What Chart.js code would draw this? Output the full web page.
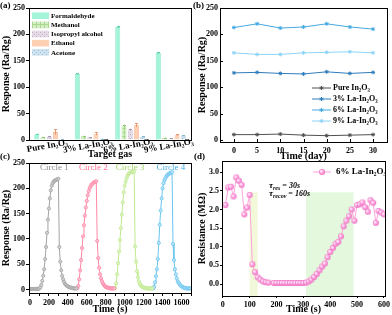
<!DOCTYPE html>
<html>
<head>
<meta charset="utf-8">
<script src="https://cdn.jsdelivr.net/npm/chart.js@4.4.1/dist/chart.umd.min.js"></script>
<style>
  html, body { margin: 0; padding: 0; background: #fff; }
  #wrap { position: relative; width: 392px; height: 315px; overflow: hidden; }
  #wrap canvas { position: absolute; }
  .tag { position: absolute; font: bold 9px 'Liberation Serif', serif; color: #000; line-height: 10px; }
</style>
</head>
<body>
<div id="wrap">
  <canvas id="gasChart" width="196" height="160" style="left:0;top:0"></canvas>
  <canvas id="stabilityChart" width="196" height="162" style="left:196px;top:0"></canvas>
  <canvas id="cycleChart" width="196" height="165" style="left:0;top:150px"></canvas>
  <canvas id="resistChart" width="196" height="165" style="left:196px;top:150px"></canvas>
  <div class="tag" style="left:0;top:0">(a)</div>
  <div class="tag" style="left:193px;top:0">(b)</div>
  <div class="tag" style="left:0;top:151px">(c)</div>
  <div class="tag" style="left:194px;top:151px">(d)</div>
</div>
<script>
const SERIF = "'Liberation Serif', 'Times New Roman', serif";

// (a) response of each sample to the target gases
const sampleLabels = ['Pure In₂O₃', '3% La-In₂O₃', '6% La-In₂O₃', '9% La-In₂O₃'];
const formaldehydeResp = [11, 125, 214, 165];
const formaldehydeErr = [1, 1.5, 2, 1.5];
const methanolResp = [5, 7, 27, 4];
const methanolErr = [1, 1, 2, 0.5];
const isopropylResp = [6, 5, 20, 3];
const isopropylErr = [0.8, 0.5, 1.5, 0.5];
const ethanolResp = [15, 12, 28, 9];
const ethanolErr = [5, 3, 4, 1.5];
const acetoneResp = [1.5, 2, 6, 8];
const acetoneErr = [0.3, 0.5, 0.8, 0.8];

// (b) long term stability
const stabilityDays = [0, 5, 10, 15, 20, 25, 30];
const pureStab = [10, 10, 11, 9, 8, 9, 10];
const la3Stab = [127, 128, 126, 125, 129, 126, 128];
const la6Stab = [213, 220, 212, 214, 220, 214, 210];
const la9Stab = [165, 162, 162, 165, 166, 167, 165];
const dayTicks = [0, 5, 10, 15, 20, 25, 30];

// (c) four response cycles
const circle1Time = [0, 10, 20, 30, 40, 50, 60, 70, 80, 90, 100, 110, 120, 130, 140, 150, 160, 170, 180, 190,
  200, 210, 220, 230, 240, 250, 260, 270, 280, 290, 300, 310, 320, 330, 340, 350, 360, 370, 380, 390,
  400, 410, 420, 430, 440, 450, 460, 470, 480, 490];
const circle1Resp = [1, 1, 1, 1, 1, 1, 1, 1, 1, 1, 2, 4, 9, 17, 27, 40, 60, 84, 112, 138,
  160, 180, 196, 205, 210, 213, 215, 216, 217, 218, 219, 84, 55, 38, 27, 20, 15, 11, 9, 7,
  6, 5, 4, 4, 3, 3, 2, 2, 2, 2];
const circle2Time = [500, 510, 520, 530, 540, 550, 560, 570, 580, 590, 600, 610, 620, 630, 640, 650, 660, 670, 680, 690,
  700, 710, 720, 730, 740, 750, 760, 770, 780, 790, 800, 810, 820, 830, 840, 850, 860, 870, 880, 890];
const circle2Resp = [2, 7, 20, 38, 58, 82, 105, 127, 146, 162, 175, 186, 194, 200, 204, 207, 209, 211, 212, 213,
  214, 96, 62, 43, 30, 22, 16, 12, 9, 7, 5, 4, 4, 3, 3, 2, 2, 2, 2, 2];
const circle3Time = [900, 910, 920, 930, 940, 950, 960, 970, 980, 990, 1000, 1010, 1020, 1030, 1040, 1050, 1060, 1070, 1080, 1090,
  1100, 1110, 1120, 1130, 1140, 1150, 1160, 1170, 1180, 1190, 1200, 1210, 1220, 1230, 1240, 1250, 1260, 1270, 1280, 1290];
const circle3Resp = [3, 12, 30, 52, 75, 98, 121, 148, 172, 192, 205, 213, 220, 225, 228, 230, 231, 232, 232, 233,
  233, 85, 55, 36, 24, 16, 11, 8, 6, 5, 4, 3, 3, 2, 2, 2, 2, 2, 2, 2];
const circle4Time = [1300, 1310, 1320, 1330, 1340, 1350, 1360, 1370, 1380, 1390, 1400, 1410, 1420, 1430, 1440, 1450, 1460, 1470, 1480, 1490,
  1500, 1510, 1520, 1530, 1540, 1550, 1560, 1570, 1580, 1590, 1600, 1610, 1620, 1630, 1640, 1650, 1660, 1670, 1680, 1690, 1700];
const circle4Resp = [2, 5, 14, 26, 40, 60, 92, 128, 156, 180, 200, 210, 216, 220, 224, 226, 228, 229, 230, 231,
  232, 90, 58, 40, 30, 22, 16, 13, 10, 8, 6, 5, 4, 3, 3, 2, 2, 2, 2, 2, 2];
const cycleTicks = [0, 100, 200, 300, 400, 500, 600, 700, 800, 900, 1000, 1100, 1200, 1300, 1400, 1500, 1600, 1700];

// (d) resistance of 6% La-In2O3 during one cycle (MOhm)
const resTime = [10, 20, 30, 40, 50, 60, 70, 80, 90, 100, 110, 120, 130, 140, 150, 160, 170, 180, 190, 200,
  210, 220, 230, 240, 250, 260, 270, 280, 290, 300, 310, 320, 330, 340, 350, 360, 370, 380, 390, 400,
  410, 420, 430, 440, 450, 460, 470, 480, 490, 500, 510, 520, 530, 540, 550, 560, 570, 580, 590, 600];
const resValue = [2.12, 2.59, 2.61, 2.35, 2.86, 2.77, 2.66, 1.87, 2.05, 2.39, 0.53, 0.32, 0.18, 0.12, 0.07, 0.05, 0.04, null, 0.03, 0.03,
  0.03, 0.03, 0.03, 0.03, 0.03, 0.03, 0.03, 0.03, 0.03, 0.03, 0.04, 0.07, 0.12, 0.19, 0.27, 0.37, 0.47, 0.55, 0.72, 0.86,
  0.97, 1.08, 1.13, 1.28, 1.55, 1.7, 1.82, 2.0, 1.7, 2.12, 2.14, 2.19, 2.06, 1.94, 2.25, 2.18, 1.64, 1.96, 1.92, 1.87];
const resTimeTicks = [0, 100, 200, 300, 400, 500, 600];
const shadeSpans = [[100, 130, 2.46], [310, 487, 2.46]];

// ---------- shared bits ----------
const tickFont = { family: SERIF, size: 8, weight: 'bold' };
const titleFont = { family: SERIF, size: 10, weight: 'bold' };

function toXY(xs, ys) {
    return xs.map((x, i) => ({ x: x, y: ys[i] }));
}

function makePattern(base, mark, kind) {
    const c = document.createElement('canvas');
    c.width = 4; c.height = 4;
    const g = c.getContext('2d');
    g.fillStyle = base;
    g.fillRect(0, 0, 4, 4);
    g.fillStyle = mark;
    if (kind === 'grid') {
        g.fillRect(0, 0, 4, 1);
        g.fillRect(0, 0, 1, 4);
    } else if (kind === 'dots') {
        g.fillRect(0, 0, 1, 1);
        g.fillRect(2, 2, 1, 1);
    }
    return g.createPattern(c, 'repeat');
}

function makeSphere(r) {
    const c = document.createElement('canvas');
    const d = r * 2 + 2;
    c.width = d; c.height = d;
    const g = c.getContext('2d');
    const grad = g.createRadialGradient(d / 2 - r * 0.35, d / 2 - r * 0.35, 0.2, d / 2, d / 2, r);
    grad.addColorStop(0, '#ffffff');
    grad.addColorStop(0.45, '#ffaee3');
    grad.addColorStop(1, '#ec6cc0');
    g.fillStyle = grad;
    g.beginPath();
    g.arc(d / 2, d / 2, r, 0, Math.PI * 2);
    g.fill();
    return c;
}

function yAxis(min, max, step, width, title, tickLen, fmt) {
    return {
        min: min, max: max,
        border: { display: false },
        grid: { display: tickLen > 0, drawOnChartArea: false, tickLength: tickLen, color: '#000' },
        ticks: { stepSize: step, includeBounds: false, font: tickFont, color: '#000', padding: tickLen > 0 ? 1 : 2, callback: fmt },
        title: { display: true, text: title, font: titleFont, color: '#000', padding: 0 },
        afterFit(s) { s.width = width; s.paddingTop = 0; s.paddingBottom = 0; }
    };
}

// x axis with a fixed list of tick values; labelEvery hides some labels
function xLinear(min, max, tickValues, labelEvery, height, title, tickLen) {
    return {
        type: 'linear', min: min, max: max,
        border: { display: false },
        grid: { display: tickLen > 0, drawOnChartArea: false, tickLength: tickLen, color: '#000' },
        ticks: {
            autoSkip: false, font: tickFont, color: '#000', padding: tickLen > 0 ? 2 : 4, maxRotation: 0,
            callback: v => (v % labelEvery === 0 ? String(v) : '')
        },
        afterBuildTicks(s) { s.ticks = tickValues.map(v => ({ value: v })); },
        title: { display: true, text: title, font: titleFont, color: '#000', padding: 0 },
        afterFit(s) { s.height = height; s.paddingLeft = 0; s.paddingRight = 0; }
    };
}

const framePlugin = {
    id: 'frame',
    afterDraw(chart) {
        const { ctx, chartArea: a } = chart;
        ctx.save();
        ctx.strokeStyle = '#000';
        ctx.lineWidth = 1;
        const l = Math.round(a.left) + 0.5, t = Math.round(a.top) + 0.5;
        ctx.strokeRect(l, t, Math.round(a.right) - Math.round(a.left), Math.round(a.bottom) - Math.round(a.top));
        ctx.restore();
    }
};

function lineLegend(x0, x1, tx, ys, fontSize) {
    return {
        id: 'lineLegend',
        afterDraw(chart) {
            const ctx = chart.ctx;
            ctx.save();
            ctx.font = `bold ${fontSize}px ${SERIF}`;
            ctx.textBaseline = 'middle';
            chart.data.datasets.forEach((ds, i) => {
                const y = ys[i];
                ctx.strokeStyle = ds.borderColor;
                ctx.lineWidth = 1;
                ctx.beginPath();
                ctx.moveTo(x0, y);
                ctx.lineTo(x1, y);
                ctx.stroke();
                ctx.fillStyle = ds.pointBackgroundColor;
                ctx.strokeStyle = ds.pointBorderColor;
                Chart.helpers.drawPoint(ctx, { pointStyle: ds.pointStyle, radius: ds.pointRadius, rotation: 0, borderWidth: 1 }, (x0 + x1) / 2, y);
                ctx.fillStyle = '#000';
                ctx.fillText(ds.label, tx, y);
            });
            ctx.restore();
        }
    };
}

Chart.defaults.animation = false;
Chart.defaults.font.family = SERIF;
Chart.defaults.color = '#000';
Chart.defaults.plugins.legend.display = false;
Chart.defaults.plugins.tooltip.enabled = false;

// ---------- (a) bar chart ----------
const gasColors = [
    { fill: '#a4f4da', border: '#7fe2c3', err: '#62cfae' },
    { fill: makePattern('#d3efc3', '#a9d98f', 'grid'), border: '#b0dc98', err: '#8fc776' },
    { fill: makePattern('#e5dbe6', '#c2afc6', 'dots'), border: '#cbbccf', err: '#a997ad' },
    { fill: '#fdcfb3', border: '#f6b896', err: '#e89a74' },
    { fill: makePattern('#cde2ee', '#a6c8dc', 'dots'), border: '#a9cbe0', err: '#86b2cc' }
];
const gasSeries = [
    ['Formaldehyde', formaldehydeResp, formaldehydeErr],
    ['Methanol', methanolResp, methanolErr],
    ['Isopropyl alcohol', isopropylResp, isopropylErr],
    ['Ethanol', ethanolResp, ethanolErr],
    ['Acetone', acetoneResp, acetoneErr]
];

const errorBars = {
    id: 'errorBars',
    afterDatasetsDraw(chart) {
        const { ctx, scales: { y } } = chart;
        ctx.save();
        ctx.lineWidth = 1;
        chart.data.datasets.forEach((ds, i) => {
            const meta = chart.getDatasetMeta(i);
            ctx.strokeStyle = ds.errColor;
            meta.data.forEach((bar, j) => {
                const top = y.getPixelForValue(ds.data[j] + ds.errors[j]);
                const bot = y.getPixelForValue(ds.data[j] - ds.errors[j]);
                const x = Math.round(bar.x) + 0.5;
                ctx.beginPath();
                ctx.moveTo(x, top); ctx.lineTo(x, bot);
                ctx.moveTo(x - 1.5, Math.round(top) + 0.5); ctx.lineTo(x + 1.5, Math.round(top) + 0.5);
                ctx.stroke();
            });
        });
        ctx.restore();
    }
};

const slantLabels = {
    id: 'slantLabels',
    afterDraw(chart) {
        const { ctx, scales: { x } } = chart;
        ctx.save();
        ctx.font = `bold 9px ${SERIF}`;
        ctx.fillStyle = '#000';
        ctx.textAlign = 'center';
        ctx.textBaseline = 'middle';
        chart.data.labels.forEach((lab, i) => {
            ctx.save();
            ctx.translate(x.getPixelForTick(i) - 2, 146);
            ctx.rotate(-10 * Math.PI / 180);
            ctx.fillText(lab, 0, 0);
            ctx.restore();
        });
        ctx.restore();
    }
};

const boxLegend = {
    id: 'boxLegend',
    afterDraw(chart) {
        const ctx = chart.ctx;
        ctx.save();
        ctx.font = `bold 7px ${SERIF}`;
        ctx.textBaseline = 'middle';
        chart.data.datasets.forEach((ds, i) => {
            const cy = 15.7 + i * 9.15;
            ctx.fillStyle = ds.backgroundColor;
            ctx.fillRect(32, cy - 3.3, 17, 6.6);
            ctx.fillStyle = '#000';
            ctx.fillText(ds.label, 51, cy + 0.5);
        });
        ctx.restore();
    }
};

new Chart(document.getElementById('gasChart'), {
    type: 'bar',
    data: {
        labels: sampleLabels,
        datasets: gasSeries.map((s, i) => ({
            label: s[0],
            data: s[1],
            errors: s[2],
            errColor: gasColors[i].err,
            backgroundColor: gasColors[i].fill,
            borderColor: gasColors[i].border,
            borderWidth: 0.8,
            categoryPercentage: 0.77,
            barPercentage: 0.8
        }))
    },
    options: {
        responsive: false,
        devicePixelRatio: 1,
        layout: { padding: { top: 8, right: 5, left: 0, bottom: 0 } },
        scales: {
            x: {
                grid: { display: false },
                border: { display: false },
                ticks: { display: false },
                title: { display: true, text: 'Target gas', font: titleFont, color: '#000', padding: 0 },
                afterFit(s) { s.height = 20; s.paddingLeft = 0; s.paddingRight = 0; }
            },
            y: yAxis(0, 250, 50, 29, 'Response (Ra/Rg)', 3)
        }
    },
    plugins: [errorBars, slantLabels, boxLegend, framePlugin]
});

// ---------- (b) stability ----------
const innerTicks = {
    id: 'innerTicks',
    afterDraw(chart) {
        const { ctx, chartArea: a, scales } = chart;
        ctx.save();
        ctx.strokeStyle = '#000';
        ctx.lineWidth = 1;
        ctx.beginPath();
        scales.y.ticks.forEach(t => {
            const py = Math.round(scales.y.getPixelForValue(t.value)) + 0.5;
            ctx.moveTo(a.left, py); ctx.lineTo(a.left + 3, py);
        });
        scales.x.ticks.forEach(t => {
            const px = Math.round(scales.x.getPixelForValue(t.value)) + 0.5;
            ctx.moveTo(px, a.bottom); ctx.lineTo(px, a.bottom - 3);
        });
        ctx.stroke();
        ctx.restore();
    }
};

const stabSeries = [
    ['Pure In₂O₃', pureStab, '#505050'],
    ['3% La-In₂O₃', la3Stab, '#2f7cbb'],
    ['6% La-In₂O₃', la6Stab, '#45a9e2'],
    ['9% La-In₂O₃', la9Stab, '#8dd4f6']
];

new Chart(document.getElementById('stabilityChart'), {
    type: 'line',
    data: {
        datasets: stabSeries.map(s => ({
            label: s[0],
            data: toXY(stabilityDays, s[1]),
            borderColor: s[2],
            borderWidth: 1,
            pointStyle: 'star',
            pointRadius: 2,
            pointBorderWidth: 1,
            pointBackgroundColor: s[2],
            pointBorderColor: s[2]
        }))
    },
    options: {
        responsive: false,
        devicePixelRatio: 1,
        layout: { padding: { top: 8, right: 5, left: 0, bottom: 0 } },
        scales: {
            x: xLinear(-3, 33, dayTicks, 5, 20, 'Time (day)', 0),
            y: yAxis(-4, 250, 50, 24, 'Response (Ra/Rg)', 0)
        }
    },
    plugins: [innerTicks, lineLegend(116, 135, 137, [88, 99, 110, 121], 8), framePlugin]
});

// ---------- (c) cycles ----------
const cycleSeries = [
    ['Circle 1', circle1Time, circle1Resp, '#a3a3a3', '#d2d2d2', '#8c8c8c'],
    ['Circle 2', circle2Time, circle2Resp, '#ff86a6', '#ffc2d2', '#ff6f91'],
    ['Circle 3', circle3Time, circle3Resp, '#bfe98e', '#e0f5c8', '#a4d66a'],
    ['Circle 4', circle4Time, circle4Resp, '#68c4f0', '#bfe6f8', '#48aee6']
];

const cycleLabels = {
    id: 'cycleLabels',
    afterDraw(chart) {
        const { ctx, scales: { x, y } } = chart;
        const at = [290, 700, 1090, 1520];
        ctx.save();
        ctx.font = `9px ${SERIF}`;
        ctx.textAlign = 'center';
        ctx.textBaseline = 'middle';
        chart.data.datasets.forEach((ds, i) => {
            ctx.fillStyle = ds.textColor;
            ctx.fillText(ds.label, x.getPixelForValue(at[i]) - 3, y.getPixelForValue(241));
        });
        ctx.restore();
    }
};

new Chart(document.getElementById('cycleChart'), {
    type: 'line',
    data: {
        datasets: cycleSeries.map(s => ({
            label: s[0],
            data: toXY(s[1], s[2]),
            borderColor: s[3],
            borderWidth: 1,
            pointRadius: 1.6,
            pointBorderWidth: 0.8,
            pointBackgroundColor: s[4],
            pointBorderColor: s[3],
            textColor: s[5]
        }))
    },
    options: {
        responsive: false,
        devicePixelRatio: 1,
        layout: { padding: { top: 13, right: 5, left: 0, bottom: 0 } },
        scales: {
            x: xLinear(-10, 1700, cycleTicks, 200, 22, 'Time (s)', 3),
            y: yAxis(-7, 250, 50, 29, 'Response (Ra/Rg)', 3)
        }
    },
    plugins: [cycleLabels, framePlugin]
});

// ---------- (d) resistance ----------
const sphere = makeSphere(3);

const shadePlugin = {
    id: 'shade',
    beforeDatasetsDraw(chart) {
        const { ctx, chartArea: a, scales: { x, y } } = chart;
        const fills = ['#f2f9da', '#e4f8de'];
        ctx.save();
        shadeSpans.forEach((s, i) => {
            const x0 = x.getPixelForValue(s[0]);
            const x1 = x.getPixelForValue(s[1]);
            const top = y.getPixelForValue(s[2]);
            ctx.fillStyle = fills[i];
            ctx.fillRect(x0, top, x1 - x0, a.bottom - top);
        });
        ctx.restore();
    }
};

const tauNote = {
    id: 'tauNote',
    afterDraw(chart) {
        const ctx = chart.ctx;
        const rows = [['res', ' = 30s', 38], ['recov', ' = 160s', 46]];
        ctx.save();
        ctx.fillStyle = '#000';
        ctx.textBaseline = 'alphabetic';
        rows.forEach(r => {
            let px = 73;
            ctx.font = `italic bold 9px ${SERIF}`;
            ctx.fillText('τ', px, r[2]);
            px += ctx.measureText('τ').width;
            ctx.font = `italic bold 6px ${SERIF}`;
            ctx.fillText(r[0], px, r[2] + 1.5);
            px += ctx.measureText(r[0]).width;
            ctx.font = `italic bold 8px ${SERIF}`;
            ctx.fillText(r[1], px, r[2]);
        });
        ctx.restore();
    }
};

new Chart(document.getElementById('resistChart'), {
    type: 'line',
    data: {
        datasets: [{
            label: '6% La-In₂O₃',
            data: toXY(resTime, resValue),
            borderColor: '#ffa3da',
            borderWidth: 1,
            spanGaps: false,
            pointStyle: sphere,
            pointRadius: 3,
            pointBackgroundColor: '#ffaee3',
            pointBorderColor: '#ec6cc0'
        }]
    },
    options: {
        responsive: false,
        devicePixelRatio: 1,
        layout: { padding: { top: 11, right: 7, left: 0, bottom: 0 } },
        scales: {
            x: xLinear(-3, 604, resTimeTicks, 100, 19, 'Time (s)', 2),
            y: yAxis(-0.32, 3.3, 0.5, 26, 'Resistance (MΩ)', 2, v => v.toFixed(1))
        }
    },
    plugins: [shadePlugin, tauNote, lineLegend(117, 135, 140, [22], 9), framePlugin]
});
</script>
</body>
</html>
